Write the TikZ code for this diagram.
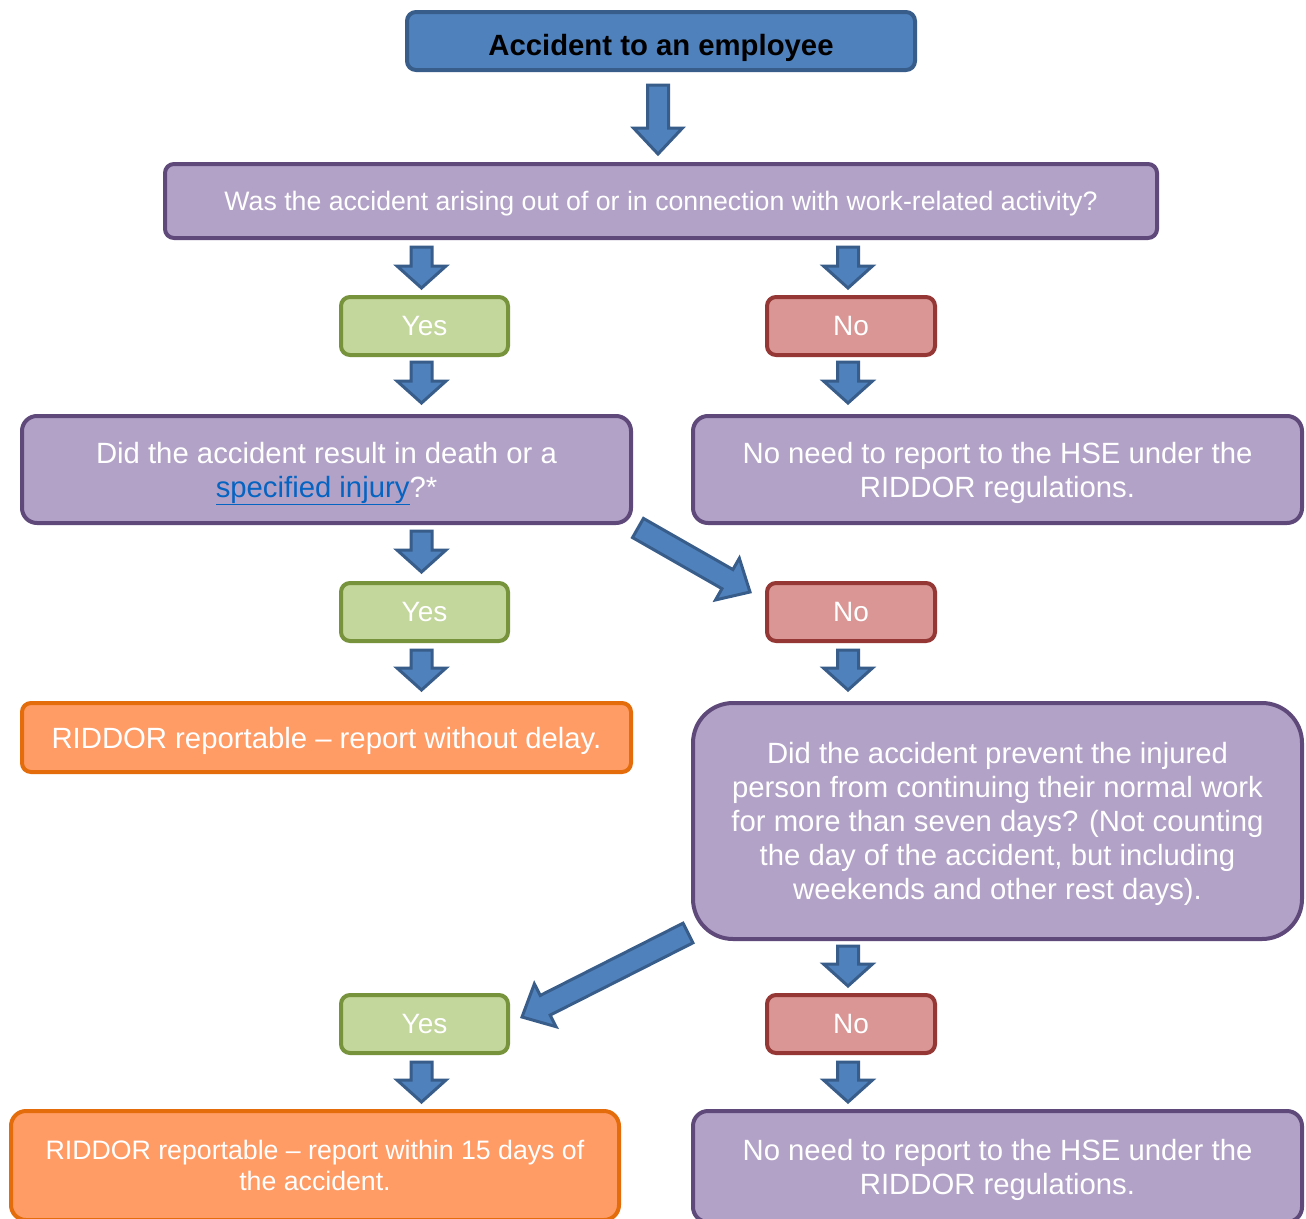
\documentclass[tikz,border=0pt]{standalone}
\usepackage{fontspec}
\setmainfont{Liberation Sans}
\usetikzlibrary{calc}
\definecolor{bluefill}{HTML}{4F81BD}
\definecolor{blueline}{HTML}{385D8A}
\definecolor{purfill}{HTML}{B2A2C7}
\definecolor{purline}{HTML}{5F497A}
\definecolor{grnfill}{HTML}{C3D69B}
\definecolor{grnline}{HTML}{77933C}
\definecolor{redfill}{HTML}{D99694}
\definecolor{redline}{HTML}{953735}
\definecolor{orgfill}{HTML}{FF9B65}
\definecolor{orgline}{HTML}{E46C0A}
\definecolor{linkblue}{HTML}{0563C1}
\newcommand\blockarr[5]{%
  \path #1 coordinate (ba0) #2 coordinate (ba1);
  \path ($(ba1)!#5!(ba0)$) coordinate (bam);
  \draw[arrowbody] ($(ba0)!#3!90:(ba1)$) -- ($(bam)!#3!90:(ba1)$) -- ($(bam)!#4!90:(ba1)$) -- (ba1)
    -- ($(bam)!#4!-90:(ba1)$) -- ($(bam)!#3!-90:(ba1)$) -- ($(ba0)!#3!-90:(ba1)$) -- cycle;
}
\newcommand\smallarr[2]{\blockarr{#1}{#2}{10.5pt}{24.5pt}{22pt}}
\newcommand\diagarr[2]{\blockarr{#1}{#2}{11pt}{24pt}{26pt}}
\tikzset{
  arrowbody/.style={fill=bluefill, draw=blueline, line width=3pt, line join=miter},
  box/.style={rectangle, rounded corners=9pt, line width=4pt, align=center, inner sep=0pt, text=white},
  topbox/.style={box, fill=bluefill, draw=blueline, text=black, text height=28pt, text depth=0pt, font=\fontsize{29.3}{34}\selectfont\bfseries},
  qbox/.style={box, fill=purfill, draw=purline, text depth=-2pt, font=\fontsize{29.3}{34}\selectfont},
  yesbox/.style={box, fill=grnfill, draw=grnline, minimum width=167pt, minimum height=58pt, font=\fontsize{28}{32}\selectfont},
  nobox/.style={box, fill=redfill, draw=redline, minimum width=168pt, minimum height=58pt, font=\fontsize{28}{32}\selectfont},
  orgbox/.style={box, fill=orgfill, draw=orgline, font=\fontsize{29.3}{34}\selectfont},
}
\begin{document}
\begin{tikzpicture}[x=1pt, y=-1pt]
\clip (0,0) rectangle (1306,1218);
\fill[white] (0,0) rectangle (1306,1218);

\node[topbox, minimum width=508pt, minimum height=58pt] (top) at (661,41) {Accident to an employee};
\node[qbox, minimum width=992pt, minimum height=74pt, font=\fontsize{26.7}{31}\selectfont] (q1) at (661,201)
  {Was the accident arising out of or in connection with work-related activity?};
\node[yesbox] (yes1) at (424.5,326) {Yes};
\node[nobox] (no1) at (851,326) {No};
\node[qbox, minimum width=609pt, minimum height=107pt, rounded corners=15pt] (q2) at (326.5,469.5)
  {Did the accident result in death or a\\\textcolor{linkblue}{\underline{specified injury}}?*};
\node[qbox, minimum width=609pt, minimum height=107pt, rounded corners=15pt] (r1) at (997.5,469.5)
  {No need to report to the HSE under the\\RIDDOR regulations.};
\node[yesbox] (yes2) at (424.5,612) {Yes};
\node[nobox] (no2) at (851,612) {No};
\node[orgbox, minimum width=609pt, minimum height=69pt, text depth=-2pt] (o1) at (326.5,737.5)
  {RIDDOR reportable -- report without delay.};
\node[qbox, minimum width=609pt, minimum height=236pt, rounded corners=40pt] (q3) at (997.5,821)
  {Did the accident prevent the injured\\person from continuing their normal work\\for more than seven days? (Not counting\\the day of the accident, but including\\weekends and other rest days).};
\node[yesbox] (yes3) at (424.5,1024) {Yes};
\node[nobox] (no3) at (851,1024) {No};
\node[orgbox, minimum width=608pt, minimum height=109pt, rounded corners=15pt, font=\fontsize{26.7}{31}\selectfont] (o2) at (315,1165.5)
  {RIDDOR reportable -- report within 15 days of\\the accident.};
\node[qbox, minimum width=609pt, minimum height=111pt, rounded corners=15pt] (r2) at (997.5,1166.5)
  {No need to report to the HSE under the\\RIDDOR regulations.};

\blockarr{($(top.south)+(-3,13)$)}{($(q1.north -| top.south)+(-3,-8)$)}{10.5pt}{24.5pt}{26pt}
\smallarr{($(q1.south -| yes1.north)+(-3,7)$)}{($(yes1.north)+(-3,-7)$)}
\smallarr{($(q1.south -| no1.north)+(-3,7)$)}{($(no1.north)+(-3,-7)$)}
\smallarr{($(yes1.south)+(-3,5)$)}{($(q2.north -| yes1.south)+(-3,-11)$)}
\smallarr{($(no1.south)+(-3,5)$)}{($(r1.north -| no1.south)+(-3,-11)$)}
\smallarr{($(q2.south -| yes2.north)+(-3,6)$)}{($(yes2.north)+(-3,-9)$)}
\diagarr{($(q2.south east)+(5,3)$)}{($(no2.north west)+(-15,11)$)}
\smallarr{($(yes2.south)+(-3,7)$)}{($(o1.north -| yes2.south)+(-3,-11)$)}
\smallarr{($(no2.south)+(-3,7)$)}{($(q3.north -| no2.south)+(-3,-11)$)}
\smallarr{($(q3.south -| no3.north)+(-3,5)$)}{($(no3.north)+(-3,-7)$)}
\diagarr{($(q3.south west)+(-3,-8)$)}{($(yes3.north east)+(12,24)$)}
\smallarr{($(yes3.south)+(-3,7)$)}{($(o2.north -| yes3.south)+(-3,-7)$)}
\smallarr{($(no3.south)+(-3,7)$)}{($(r2.north -| no3.south)+(-3,-7)$)}
\end{tikzpicture}
\end{document}
